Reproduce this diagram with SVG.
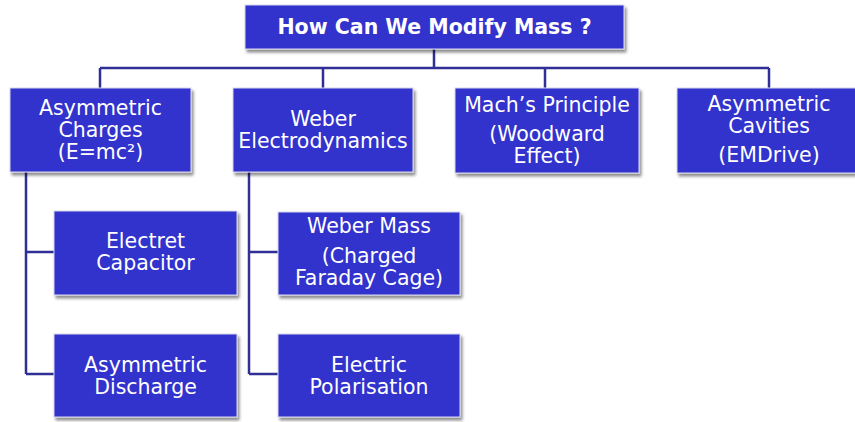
<svg xmlns="http://www.w3.org/2000/svg" width="855" height="422" viewBox="0 0 855 422">
  <defs>
    <filter id="shadow" x="-10%" y="-10%" width="125%" height="130%">
      <feGaussianBlur in="SourceAlpha" stdDeviation="1.6"/>
      <feOffset dx="1.5" dy="2.5" result="b"/>
      <feComponentTransfer><feFuncA type="linear" slope="0.45"/></feComponentTransfer>
      <feMerge><feMergeNode/><feMergeNode in="SourceGraphic"/></feMerge>
    </filter>
  </defs>
  <style>
    .box { fill: #3333CC; stroke: #d8d8ee; stroke-width: 1; filter: url(#shadow); }
    .lbl { fill: #ffffff; font-family: "DejaVu Sans", Verdana, sans-serif; font-size: 20.5px; text-anchor: middle; }
    .title { font-weight: bold; }
    .wire { fill: none; stroke: #2f2f96; stroke-width: 2.5; }
  </style>
  <rect width="855" height="422" fill="#ffffff"/>

  <g id="connectors">
    <path class="wire" d="M434 49 V68 M100 68 H769 M100 68 V88 M323 68 V88 M545 68 V88 M769 68 V88"/>
    <path class="wire" d="M26 172 V374 M26 252 H54 M26 374 H54"/>
    <path class="wire" d="M249 172 V374 M249 252 H278 M249 374 H278"/>
  </g>

  <g id="root">
    <rect class="box" x="245" y="5" width="379" height="44"/>
    <text class="lbl title" x="434.5" y="34">How Can We Modify Mass ?</text>
  </g>

  <g id="asymmetric-charges">
    <rect class="box" x="10" y="88" width="181" height="84"/>
    <text class="lbl" x="100.5" y="115">Asymmetric</text>
    <text class="lbl" x="100.5" y="137">Charges</text>
    <text class="lbl" x="100.5" y="159">(E=mc²)</text>
  </g>

  <g id="weber-electrodynamics">
    <rect class="box" x="233" y="88" width="180" height="84"/>
    <text class="lbl" x="323" y="126">Weber</text>
    <text class="lbl" x="323" y="148">Electrodynamics</text>
  </g>

  <g id="machs-principle">
    <rect class="box" x="455" y="88" width="184" height="85"/>
    <text class="lbl" x="547" y="112">Mach’s Principle</text>
    <text class="lbl" x="547" y="141">(Woodward</text>
    <text class="lbl" x="547" y="163">Effect)</text>
  </g>

  <g id="asymmetric-cavities">
    <rect class="box" x="677" y="88" width="184" height="85"/>
    <text class="lbl" x="769" y="111">Asymmetric</text>
    <text class="lbl" x="769" y="133">Cavities</text>
    <text class="lbl" x="769" y="162">(EMDrive)</text>
  </g>

  <g id="electret-capacitor">
    <rect class="box" x="54" y="211" width="183" height="84"/>
    <text class="lbl" x="145.5" y="248">Electret</text>
    <text class="lbl" x="145.5" y="270">Capacitor</text>
  </g>

  <g id="asymmetric-discharge">
    <rect class="box" x="54" y="334" width="183" height="83"/>
    <text class="lbl" x="145.5" y="372">Asymmetric</text>
    <text class="lbl" x="145.5" y="394">Discharge</text>
  </g>

  <g id="weber-mass">
    <rect class="box" x="278" y="212" width="182" height="83"/>
    <text class="lbl" x="369" y="233">Weber Mass</text>
    <text class="lbl" x="369" y="263">(Charged</text>
    <text class="lbl" x="369" y="285">Faraday Cage)</text>
  </g>

  <g id="electric-polarisation">
    <rect class="box" x="278" y="334" width="182" height="83"/>
    <text class="lbl" x="369" y="372">Electric</text>
    <text class="lbl" x="369" y="394">Polarisation</text>
  </g>
</svg>
